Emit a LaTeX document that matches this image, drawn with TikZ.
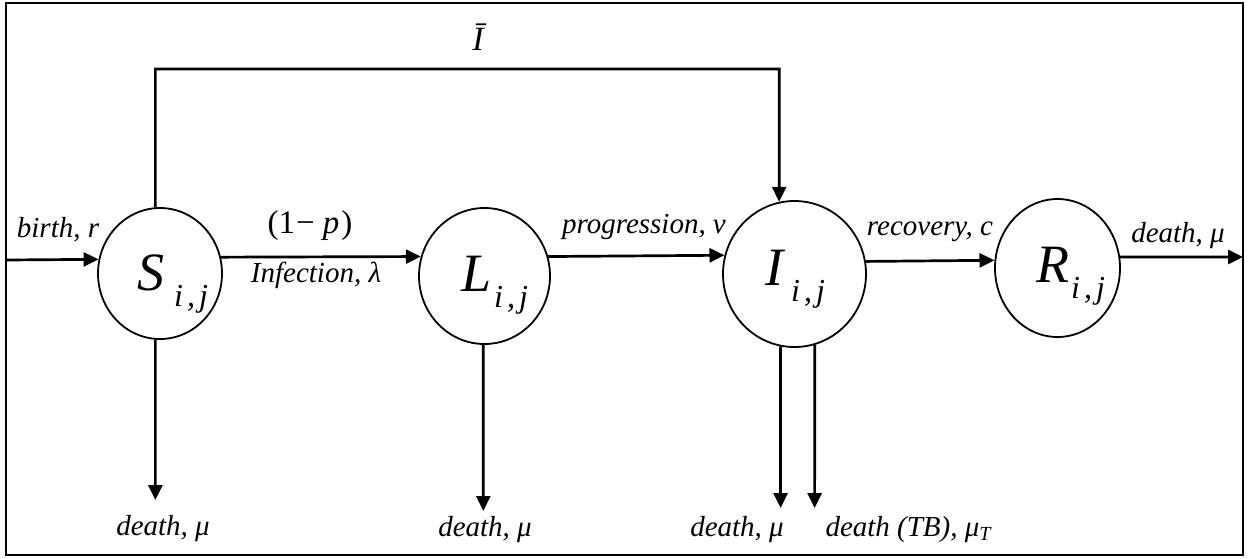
\documentclass[tikz,border=0pt]{standalone}
\usepackage{fontspec}
\setmainfont{Liberation Serif}
\usetikzlibrary{shapes.geometric,arrows.meta}
\newcommand\ratefont{\fontsize{29}{29}\selectfont\itshape}
\newcommand\subij{\raisebox{-16pt}{\fontsize{32}{32}\selectfont\itshape i\kern4pt,\kern4pt j}}
\newcommand\compart[2]{{\fontsize{54}{54}\selectfont\itshape #1}\kern#2\subij}
\begin{document}
\begin{tikzpicture}[x=1pt,y=-1pt,
	comp/.style={draw,ellipse,line width=1.8pt,inner sep=0pt},
	flow/.style={line width=2.7pt,-{Triangle[length=15pt,width=14pt]}},
	rate/.style={inner sep=0pt,anchor=base,font=\ratefont},
	ctext/.style={inner sep=0pt,anchor=base west}]
					\useasboundingbox (0,0) rectangle (1253,558);
					\draw[line width=1.8pt] (6,3) rectangle (1243,555);
					\node[comp,minimum width=124pt,minimum height=131pt] (S) at (160,273.5) {};
					\node[comp,minimum width=131pt,minimum height=136pt] (L) at (484.5,276) {};
					\node[comp,minimum width=143pt,minimum height=146pt] (I) at (794.5,274) {};
					\node[comp,minimum width=125pt,minimum height=138pt] (R) at (1057.5,268) {};
					\node[ctext] (Sname) at (137,290.5) {\compart{S}{10pt}};
					\node[ctext] (Lname) at (461,291.5) {\compart{L}{3pt}};
					\node[ctext] (Iname) at (765,285) {\compart{I}{8pt}};
					\node[ctext] (Rname) at (1036,282) {\compart{R}{2pt}};
					\coordinate (birth) at (6,260);
					\coordinate (exitR) at (1243,257);
					\coordinate (dS) at (155.4,500);
					\coordinate (dL) at (483.3,511);
					\coordinate (dI) at (780.6,508);
					\coordinate (dTB) at (814.6,508);
					\coordinate (top) at (779.3,69);
					\draw[flow] (birth) -- (S.167.5);
					\draw[flow] (S.15.4) -- (L.163.2);
					\draw[flow] (L.17.7) -- (I.165.4);
					\draw[flow] (I.10.5) -- (R.173.6);
					\draw[flow] (R.10.1) -- (exitR);
					\draw[flow] (S.266) -- (dS);
					\draw[flow] (L.269) -- (dL);
					\draw[flow] (I.259) -- (dI);
					\draw[flow] (I.286) -- (dTB);
					\draw[flow] (S.94) |- (top) -- (I.102);
					\node[rate] (lbar) at (478,50) {\fontsize{34}{34}\selectfont Ī};
					\node[rate] (lbirth) at (58,237) {birth, r};
					\node[rate,font=\fontsize{33}{33}\selectfont] (lp) at (310,233) {(1\kern1pt−\kern8pt\textit{p}\kern2pt)};
					\node[rate] (linf) at (316,282) {Infection, λ};
					\node[rate] (lprog) at (644,233) {progression, v};
					\node[rate] (lrec) at (930,235) {recovery, c};
					\node[rate] (ldR) at (1178,242) {death, μ};
					\node[rate] (ldS) at (163,535) {death, μ};
					\node[rate] (ldL) at (485,536) {death, μ};
					\node[rate] (ldI) at (737,536) {death, μ};
					\node[rate] (ldTB) at (908,536) {death (TB), μ\raisebox{-4pt}{\fontsize{20}{20}\selectfont T}};
				\end{tikzpicture}
\end{document}
